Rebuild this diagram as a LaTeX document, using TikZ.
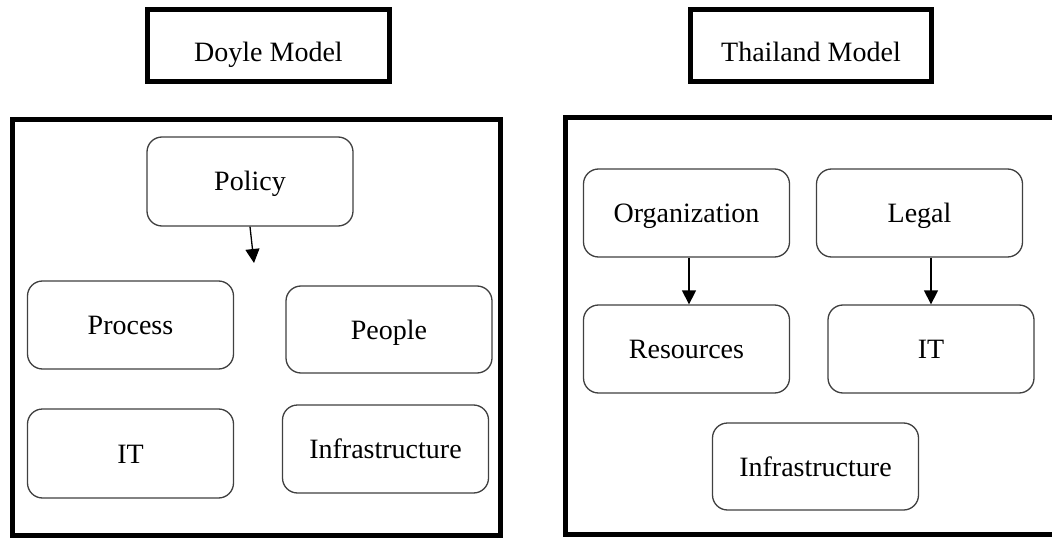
\documentclass[tikz,border=0pt]{standalone}
\usepackage{fontspec}
\setmainfont{Liberation Serif}
\usetikzlibrary{arrows.meta,calc}
\begin{document}
\begin{tikzpicture}[x=1pt,y=-1pt,
  outer/.style={draw=black,line width=5pt},
  titlebox/.style={draw=black,line width=5pt,minimum height=72pt,inner sep=0pt,text height=32pt,text depth=0pt,font=\fontsize{28}{32}\selectfont},
  item/.style={draw=black!75,line width=1.3pt,rounded corners=15pt,minimum width=206pt,minimum height=88pt,inner sep=0pt,text height=19pt,text depth=0pt,font=\fontsize{28}{32}\selectfont},
  conn/.style={line width=1.3pt,-{Triangle[width=14pt,length=14pt]}}]
\clip (0,0) rectangle (1052,540);
\fill[white] (0,0) rectangle (1052,540);
% titles
\node[titlebox,minimum width=242pt] (doyle) at (268.5,45.5) {Doyle Model};
\node[titlebox,minimum width=241pt] (thai) at (811,45.5) {Thailand Model};
% big frames
\draw[outer] (12.5,119.5) rectangle (500.5,535.5);
\draw[outer] (565.5,117.5) rectangle (1065,534.5);
% Doyle items
\node[item,minimum height=89pt] (policy) at (250,181.5) {Policy};
\node[item] (process) at (130.5,325) {Process};
\node[item,minimum height=87pt] (people) at (389,329.5) {People};
\node[item,minimum height=89pt] (it1) at (130.5,453.5) {IT};
\node[item] (infra1) at (385.5,449) {Infrastructure};
\coordinate (ptip) at (254,263);
\draw[conn] (policy.south) -- (ptip);
% Thailand items
\node[item] (org) at (686.5,213) {Organization};
\node[item] (legal) at (919.5,213) {Legal};
\node[item] (res) at (686.5,349) {Resources};
\node[item] (it2) at (931,349) {IT};
\node[item,minimum height=87pt] (infra2) at (815.5,466.5) {Infrastructure};
\draw[conn] ($(org.south)+(2.5,0)$) -- ($(res.north)+(2.5,0)$);
\draw[conn] (legal.south -| it2.north) -- (it2.north);
\end{tikzpicture}
\end{document}
